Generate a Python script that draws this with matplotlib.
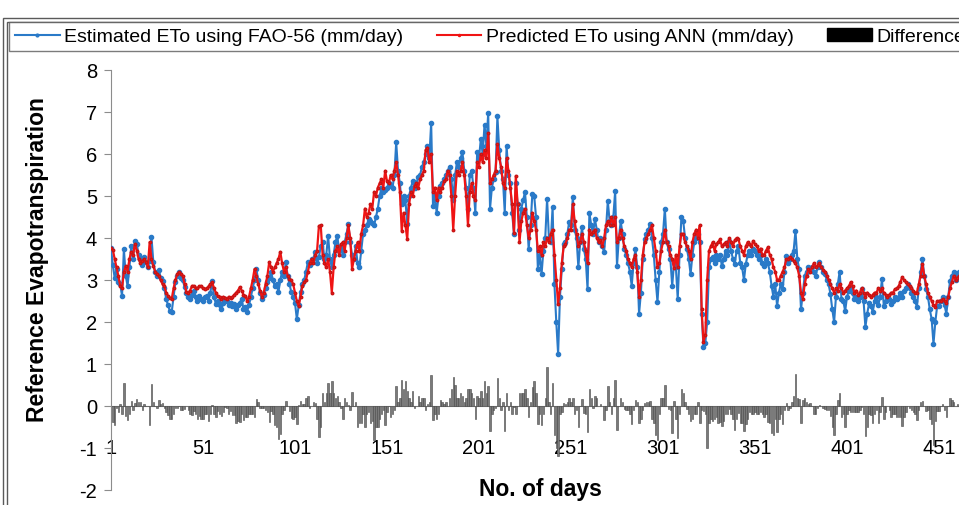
import matplotlib
matplotlib.use('Agg')
import matplotlib.pyplot as plt
from matplotlib.lines import Line2D
from matplotlib.patches import Patch, Rectangle
import numpy as np

plt.rcParams['font.family'] = ['Liberation Sans', 'DejaVu Sans']
plt.rcParams['axes.unicode_minus'] = False

# daily ETo estimated with FAO-56 (mm/day)
fao = [
    3.76, 3.35, 3.05, 3.26, 2.95, 2.9, 2.62, 3.74, 3.1, 2.86,
    3.3, 3.8, 3.5, 3.93, 3.86, 3.6, 3.5, 3.35, 3.55, 3.43,
    3.3, 3.45, 4.02, 3.43, 3.2, 3.1, 3.25, 3.05, 2.98, 2.8,
    2.55, 2.4, 2.26, 2.24, 2.6, 2.95, 3.1, 3.19, 3.05, 3.0,
    2.83, 2.7, 2.6, 2.55, 2.65, 2.74, 2.6, 2.5, 2.62, 2.55,
    2.5, 2.6, 2.62, 2.5, 2.7, 2.98, 2.6, 2.43, 2.5, 2.4,
    2.31, 2.45, 2.55, 2.5, 2.4, 2.45, 2.38, 2.43, 2.3, 2.4,
    2.45, 2.55, 2.31, 2.35, 2.25, 2.4, 2.6, 2.8, 3.0, 3.26,
    3.0, 2.7, 2.55, 2.65, 2.8, 2.95, 3.05, 3.19, 3.0, 2.85,
    2.9, 2.71, 3.0, 3.2, 3.1, 3.43, 3.1, 2.9, 2.71, 2.6,
    2.45, 2.07, 2.4, 2.71, 2.9, 3.0, 3.2, 3.43, 3.35, 3.5,
    3.5, 3.67, 3.4, 3.55, 3.8, 3.9, 3.5, 3.6, 4.05, 3.5,
    3.3, 3.6, 3.9, 4.05, 3.7, 3.8, 3.6, 3.9, 4.1, 4.33,
    3.9, 3.6, 3.5, 3.8, 3.4, 3.3, 3.7, 4.1, 4.2, 4.3,
    4.45, 4.4, 4.35, 4.3, 4.5, 4.7, 5.0, 5.2, 5.1, 5.15,
    5.2, 5.3, 5.25, 5.2, 5.5, 6.28, 5.6, 5.3, 4.8, 5.0,
    4.9, 4.33, 5.0, 5.2, 5.35, 5.2, 5.3, 5.45, 5.5, 5.7,
    5.8, 6.0, 6.2, 5.9, 6.74, 4.76, 5.0, 4.6, 5.0, 5.24,
    5.3, 5.4, 5.5, 5.6, 5.7, 5.4, 4.9, 5.5, 5.8, 5.7,
    5.9, 6.04, 5.6, 5.2, 4.7, 5.5, 5.6, 5.2, 4.6, 6.05,
    5.9, 6.36, 6.0, 6.7, 6.2, 6.98, 4.7, 5.2, 5.4, 5.56,
    6.9, 6.1, 5.6, 5.4, 4.6, 6.2, 5.5, 5.3, 4.6, 4.1,
    5.3, 4.8, 4.2, 4.7, 4.9, 5.1, 4.5, 3.74, 4.3, 5.05,
    5.0, 4.5, 3.26, 3.6, 3.14, 3.7, 4.0, 4.93, 4.0, 3.9,
    4.74, 2.9, 2.0, 1.24, 2.6, 3.26, 3.86, 3.9, 4.1, 4.38,
    4.3, 4.98, 4.2, 4.0, 3.3, 3.9, 4.26, 3.74, 3.5, 2.78,
    4.6, 4.3, 4.1, 4.45, 4.2, 3.9, 4.0, 3.8, 3.67, 4.2,
    4.88, 4.4, 4.3, 4.5, 5.12, 3.33, 4.0, 4.4, 4.1, 3.74,
    3.6, 3.4, 3.2, 2.86, 3.4, 3.74, 3.3, 2.2, 2.7, 3.5,
    3.97, 4.1, 4.2, 4.33, 4.0, 3.6, 3.0, 2.48, 3.2, 3.9,
    4.1, 4.7, 3.9, 3.74, 3.5, 2.86, 3.4, 3.3, 2.55, 3.6,
    4.5, 4.4, 4.0, 3.74, 3.5, 3.14, 3.6, 3.9, 4.0, 4.1,
    3.9, 2.2, 1.4, 1.5, 2.0, 3.3, 3.5, 3.55, 3.4, 3.6,
    3.5, 3.6, 3.33, 3.5, 3.7, 3.6, 3.93, 3.7, 3.5, 3.38,
    3.7, 3.8, 3.4, 3.3, 3.0, 3.38, 3.6, 3.7, 3.6, 3.75,
    3.7, 3.6, 3.5, 3.6, 3.4, 3.33, 3.5, 3.4, 3.2, 2.86,
    2.6, 2.9, 2.38, 2.7, 2.9, 2.78, 3.2, 3.57, 3.4, 3.5,
    3.6, 3.7, 4.17, 3.5, 3.26, 2.3, 2.7, 3.1, 3.2, 3.3,
    3.26, 3.3, 3.2, 3.1, 3.3, 3.43, 3.3, 3.2, 3.14, 3.0,
    2.9, 2.67, 2.3, 2.0, 2.6, 2.9, 3.2, 2.55, 2.5, 2.26,
    2.6, 2.75, 2.8, 2.7, 2.55, 2.6, 2.5, 2.6, 2.78, 2.5,
    1.88, 2.2, 2.45, 2.38, 2.24, 2.5, 2.6, 2.4, 2.6, 3.02,
    2.38, 2.5, 2.6, 2.55, 2.43, 2.5, 2.6, 2.55, 2.6, 2.7,
    2.6, 2.75, 2.8, 2.9, 2.8, 2.7, 2.6, 2.5, 2.36, 2.8,
    3.2, 3.5, 3.1, 2.78, 2.6, 2.3, 2.07, 1.48, 2.0, 2.38,
    2.38, 2.5, 2.6, 2.4, 2.2, 2.6, 2.98, 3.1, 3.2, 3.0,
    3.1, 3.2, 3.0, 2.9, 3.1, 3.2, 3.0, 2.9, 3.0, 3.1,
]

# daily ETo predicted by the ANN (mm/day)
ann = [
    3.76, 3.72, 3.5, 3.3, 3.1, 2.86, 2.8, 3.2, 3.33, 3.2,
    3.5, 3.67, 3.6, 3.86, 3.7, 3.5, 3.4, 3.45, 3.5, 3.43,
    3.3, 3.9, 3.5, 3.33, 3.2, 3.15, 3.1, 3.0, 2.9, 2.85,
    2.7, 2.62, 2.58, 2.55, 2.8, 3.0, 3.14, 3.19, 3.15, 3.1,
    2.9, 2.71, 2.7, 2.75, 2.86, 2.86, 2.8, 2.8, 2.85, 2.86,
    2.8, 2.79, 2.8, 2.85, 2.9, 2.95, 2.8, 2.7, 2.62, 2.6,
    2.55, 2.6, 2.58, 2.55, 2.6, 2.58, 2.6, 2.65, 2.7, 2.75,
    2.83, 2.75, 2.65, 2.62, 2.5, 2.6, 2.8, 3.0, 3.26, 3.1,
    2.9, 2.75, 2.6, 2.7, 2.9, 3.1, 3.43, 3.3, 3.2, 3.3,
    3.4, 3.5, 3.67, 3.4, 3.2, 3.3, 3.1, 3.02, 3.0, 2.9,
    2.7, 2.5, 2.38, 2.6, 2.86, 2.95, 3.0, 3.2, 3.4, 3.5,
    3.4, 3.6, 3.7, 4.29, 4.3, 3.6, 3.4, 3.3, 3.5, 3.2,
    2.7, 3.3, 3.7, 3.8, 3.6, 3.85, 3.9, 3.7, 4.0, 4.3,
    4.0, 3.26, 3.5, 3.7, 3.9, 3.7, 4.1, 4.3, 4.7, 4.5,
    4.6, 4.8, 4.7, 5.1, 5.0, 5.2, 5.3, 5.4, 5.2, 5.6,
    5.35, 5.3, 5.5, 5.4, 5.6, 5.8, 5.5, 5.1, 4.17, 4.6,
    4.3, 3.98, 4.8, 5.1, 5.0, 5.25, 5.3, 5.2, 5.4, 5.5,
    5.6, 6.1, 6.15, 5.8, 6.0, 5.1, 5.2, 4.9, 5.2, 5.1,
    5.2, 5.35, 5.4, 5.6, 5.5, 5.0, 4.2, 5.0, 5.6, 5.5,
    5.6, 5.8, 5.5, 5.0, 4.3, 5.1, 5.3, 5.0, 4.9, 5.8,
    5.7, 6.0, 5.8, 6.1, 5.9, 6.5, 5.3, 5.4, 5.5, 5.6,
    6.24, 5.9, 5.7, 5.3, 5.2, 5.9, 5.6, 5.2, 4.8, 4.13,
    5.48, 4.8, 3.9, 4.4, 4.6, 4.7, 4.3, 4.0, 4.2, 4.6,
    4.4, 4.2, 3.7, 3.8, 3.6, 3.9, 3.8, 4.0, 3.9, 4.1,
    4.2, 3.6, 3.0, 2.43, 2.8, 3.4, 3.8, 3.85, 4.0, 4.2,
    4.2, 4.8, 4.4, 4.1, 3.8, 3.9, 4.1, 3.9, 3.7, 3.4,
    4.2, 4.1, 4.15, 4.2, 4.0, 3.9, 3.95, 3.8, 4.0, 4.3,
    4.4, 4.3, 4.5, 4.3, 4.5, 3.9, 4.0, 4.2, 4.0, 3.8,
    3.7, 3.5, 3.4, 3.3, 3.5, 3.6, 3.2, 2.6, 3.0, 3.6,
    3.9, 4.0, 4.1, 4.2, 4.3, 4.0, 3.7, 3.3, 3.4, 3.7,
    3.9, 4.2, 3.9, 3.8, 3.6, 3.5, 3.28, 3.6, 3.3, 3.8,
    4.1, 4.1, 3.9, 3.8, 3.7, 3.5, 3.9, 4.1, 4.2, 4.0,
    4.3, 2.3, 1.52, 1.7, 3.0, 3.7, 3.8, 3.9, 3.7, 3.85,
    3.9, 3.97, 3.8, 3.85, 3.9, 3.8, 4.0, 3.9, 3.8, 3.95,
    4.0, 3.97, 3.8, 3.7, 3.6, 3.8, 3.9, 3.85, 3.8, 3.93,
    3.85, 3.8, 3.7, 3.75, 3.6, 3.6, 3.7, 3.78, 3.6, 3.5,
    3.3, 3.2, 3.0, 3.0, 3.1, 3.2, 3.3, 3.5, 3.5, 3.55,
    3.5, 3.45, 3.4, 3.3, 3.1, 2.7, 2.55, 2.9, 3.1, 3.26,
    3.2, 3.3, 3.4, 3.3, 3.35, 3.4, 3.3, 3.25, 3.2, 3.1,
    3.0, 2.9, 2.8, 2.7, 2.8, 2.75, 2.9, 2.8, 2.7, 2.75,
    2.8, 2.85, 2.95, 2.85, 2.7, 2.75, 2.65, 2.7, 2.8, 2.7,
    2.6, 2.7, 2.65, 2.6, 2.65, 2.7, 2.7, 2.8, 2.75, 2.8,
    2.7, 2.65, 2.6, 2.65, 2.7, 2.7, 2.78, 2.8, 2.85, 2.95,
    3.07, 3.0, 2.95, 2.9, 2.85, 2.8, 2.75, 2.7, 2.7, 2.9,
    3.1, 3.38, 3.1, 2.9, 2.7, 2.6, 2.5, 2.4, 2.36, 2.5,
    2.5, 2.5, 2.55, 2.5, 2.45, 2.6, 2.8, 2.95, 3.1, 3.0,
    3.05, 3.1, 3.0, 2.95, 3.05, 3.1, 3.0, 2.95, 3.0, 3.05,
]

x_ticks = [1, 51, 101, 151, 201, 251, 301, 351, 401, 451]
y_ticks = [-2, -1, 0, 1, 2, 3, 4, 5, 6, 7, 8]

days = np.arange(1, len(fao) + 1)
diff = np.array(fao) - np.array(ann)

W, H = 959, 506
fig = plt.figure(figsize=(W / 100, H / 100), dpi=100)

# plot area: day 1 at x=111 px, 1.84 px per day, y=8 at 71 px, y=-2 at 491 px
x0 = 111
px_day = 1.84
right = x0 + (len(fao) - 1) * px_day
ax = fig.add_axes([x0 / W, (H - 491) / H, (right - x0) / W, 420 / H])

ax.bar(days, diff, width=0.8, color='#7a7a7a', edgecolor='#484848', linewidth=0.4, zorder=2)
ax.plot(days, fao, color='#2a7ac8', lw=1.5, marker='o', ms=3, mec='#2a7ac8', zorder=3)
ax.plot(days, ann, color='#f01414', lw=1.6, marker='o', ms=1.8, mec='#c81414', zorder=4)

ax.set_xlim(1, len(fao))
ax.set_ylim(-2, 8)
ax.set_yticks(y_ticks)
ax.set_xticks(x_ticks)
ax.set_xticklabels([str(t) for t in x_ticks])

for s in ['top', 'right']:
    ax.spines[s].set_visible(False)
ax.spines['left'].set_color('#8c8c8c')
ax.spines['bottom'].set_color('#8c8c8c')
ax.spines['bottom'].set_position(('data', 0))
ax.spines['bottom'].set_zorder(1)
ax.tick_params(axis='y', direction='out', length=5, color='#8c8c8c', labelsize=14.5, pad=5)
ax.tick_params(axis='x', length=0, labelsize=14.5, pad=23)

fig.text(540 / W, 1 - 490 / H, 'No. of days', ha='center', va='center',
         fontsize=16.5, fontweight='bold')
fig.text(38 / W, 1 - 260 / H, 'Reference Evapotranspiration', ha='center', va='center',
         rotation=90, fontsize=16.5, fontweight='bold')

# chart border (double line on the left / top)
for off in (3, 7):
    fig.add_artist(Rectangle((off / W, -0.1), 1.2, 1 - (16 + off) / H + 0.1,
                             transform=fig.transFigure, fill=False,
                             edgecolor='#5a5a5a', lw=1))

handles = [
    Line2D([], [], color='#2a7ac8', lw=1.5, marker='o', ms=2),
    Line2D([], [], color='#f01414', lw=1.5, marker='o', ms=1.5),
    Patch(facecolor='black', edgecolor='black'),
]
labels = ['Estimated ETo using FAO-56 (mm/day)',
          'Predicted ETo using ANN (mm/day)',
          'Difference']
leg = fig.legend(handles, labels, loc='upper left', bbox_to_anchor=(9 / W, 1 - 23 / H),
                 ncol=3, fontsize=14, frameon=True, fancybox=False,
                 handlelength=2.3, handletextpad=0.25, columnspacing=1.7,
                 borderpad=0.3, borderaxespad=0)
leg.get_frame().set_edgecolor('#5a5a5a')
leg.get_frame().set_linewidth(1)

fig.savefig('out.png', dpi=100)
